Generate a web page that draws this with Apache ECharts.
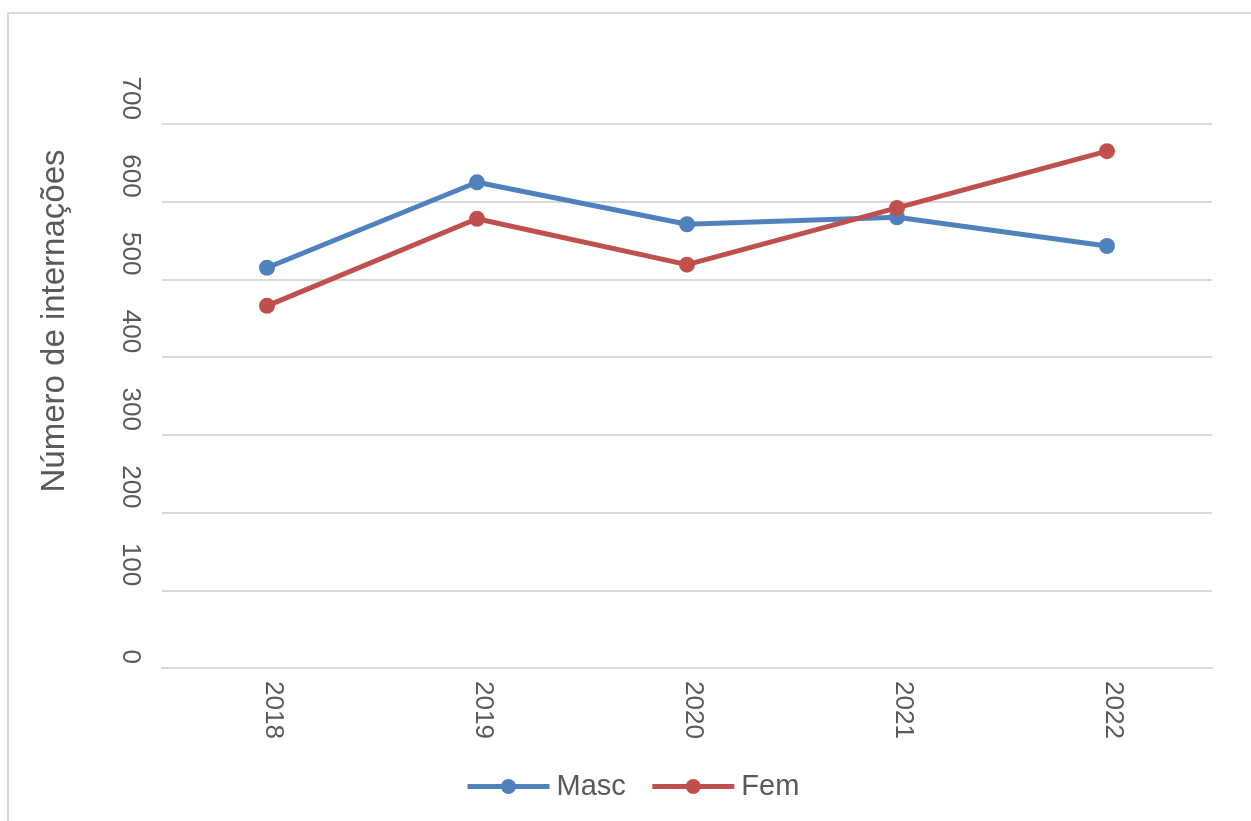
<!DOCTYPE html>
<html>
<head>
<meta charset="utf-8">
<script src="https://cdn.jsdelivr.net/npm/echarts@6/dist/echarts.min.js"></script>
<style>
html,body{margin:0;padding:0;background:#fff;}
#c{width:1251px;height:821px;}
</style>
</head>
<body>
<div id="c"></div>
<script>
var categories = ['2018', '2019', '2020', '2021', '2022'];
var masc = [515, 625, 571, 580, 543];
var fem = [466, 578, 519, 592, 665];
var yTicks = { min: 0, max: 700, interval: 100 };
var yTitle = 'Número de internações';

var chart = echarts.init(document.getElementById('c'), null, { renderer: 'canvas' });
var textColor = '#595959';
var font = '"Liberation Sans", Arial, sans-serif';

chart.setOption({
  animation: false,
  backgroundColor: '#fff',
  textStyle: { fontFamily: font },
  graphic: [
    {
      type: 'rect',
      shape: { x: 8, y: 13, width: 1400, height: 1000 },
      style: { fill: 'none', stroke: '#d9d9d9', lineWidth: 2 },
      silent: true
    },
    {
      type: 'text',
      x: 55, y: 321,
      rotation: Math.PI / 2,
      style: {
        text: yTitle,
        fill: textColor,
        font: '33px ' + font,
        textAlign: 'center',
        textVerticalAlign: 'middle'
      }
    }
  ],
  grid: { left: 162, right: 39, top: 124, bottom: 153, containLabel: false },
  legend: {
    data: ['Masc', 'Fem'],
    left: 460,
    top: 767,
    itemWidth: 82,
    itemHeight: 19,
    itemGap: 24,
    lineStyle: { width: 5 },
    textStyle: { fontSize: 29, color: textColor, fontFamily: font, padding: [0, 0, 0, 2] }
  },
  xAxis: {
    type: 'category',
    data: categories,
    boundaryGap: true,
    axisLine: { show: true, lineStyle: { color: '#d9d9d9', width: 2 } },
    axisTick: { show: false },
    splitLine: { show: false },
    axisLabel: {
      rotate: -90,
      margin: 13,
      fontSize: 26,
      color: textColor,
      fontFamily: font,
      verticalAlign: 'bottom',
      lineHeight: 12
    }
  },
  yAxis: {
    type: 'value',
    min: yTicks.min,
    max: yTicks.max,
    interval: yTicks.interval,
    axisLine: { show: false },
    axisTick: { show: false },
    splitLine: { show: true, lineStyle: { color: '#d9d9d9', width: 2 } },
    axisLabel: {
      rotate: -90,
      align: 'right',
      verticalAlign: 'middle',
      margin: 32,
      fontSize: 26,
      color: textColor,
      fontFamily: font,
      padding: [0, 4, 0, 0]
    }
  },
  series: [
    {
      name: 'Masc',
      type: 'line',
      data: masc,
      symbol: 'circle',
      symbolSize: 16,
      lineStyle: { color: '#4f81bd', width: 5 },
      itemStyle: { color: '#4f81bd' }
    },
    {
      name: 'Fem',
      type: 'line',
      data: fem,
      symbol: 'circle',
      symbolSize: 16,
      lineStyle: { color: '#c0504d', width: 5 },
      itemStyle: { color: '#c0504d' }
    }
  ]
});
</script>
</body>
</html>
